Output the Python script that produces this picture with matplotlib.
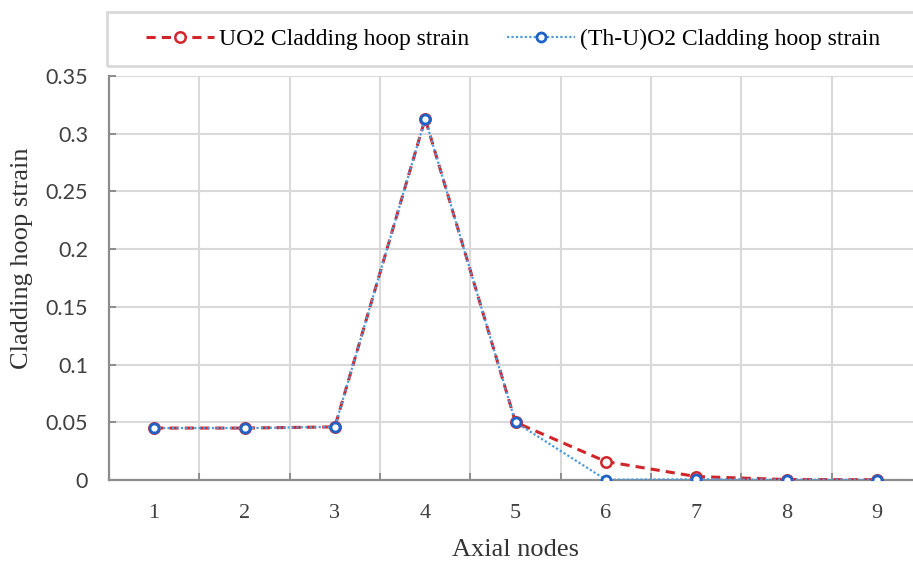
import matplotlib
matplotlib.use("Agg")
import matplotlib.pyplot as plt
from matplotlib.patches import Rectangle

# data
nodes = [1, 2, 3, 4, 5, 6, 7, 8, 9]
uo2_strain = [0.045, 0.045, 0.046, 0.313, 0.050, 0.016, 0.003, 0.0004, 0.0002]
thu_strain = [0.045, 0.045, 0.046, 0.313, 0.050, 0.0003, 0.0006, 0.0003, 0.0002]
yticks = [0, 0.05, 0.1, 0.15, 0.2, 0.25, 0.3, 0.35]
ytick_labels = ["0", "0.05", "0.1", "0.15", "0.2", "0.25", "0.3", "0.35"]

red = "#d0262b"
blue_line = "#4a9be0"
blue_mark = "#1f62c8"

fig = plt.figure(figsize=(9.13, 5.61), dpi=100)
ax = fig.add_axes([109 / 913, 1 - 480 / 561, 813 / 913, (480 - 76) / 561])

ax.plot(nodes, uo2_strain, color=red, ls=(0, (3, 2)), lw=2.2, marker="o",
        ms=7.5, mfc="white", mec=red, mew=1.8, label="UO2 Cladding hoop strain", zorder=3)
ax.plot(nodes, thu_strain, color=blue_line, ls=(0, (1, 1)), lw=1.6, marker="o",
        ms=6.5, mfc="white", mec=blue_mark, mew=2.0, label="(Th-U)O2 Cladding hoop strain", zorder=4)

ax.set_xlim(0.5, 9.5)
ax.set_ylim(0, 0.35)
ax.set_xticks(nodes)
ax.set_xticks([x + 0.5 for x in nodes[:-1]], minor=True)
ax.set_yticks(yticks)
ax.set_yticklabels(ytick_labels)
ax.grid(True, which="minor", axis="x", color="#d9d9d9", lw=1.5)
ax.grid(True, which="major", axis="y", color="#d9d9d9", lw=1.5)
ax.set_axisbelow(True)

for side in ["top", "right"]:
    ax.spines[side].set_visible(False)
for side in ["left", "bottom"]:
    ax.spines[side].set_color("#8c8c8c")
    ax.spines[side].set_linewidth(1.6)

ax.tick_params(axis="x", which="major", length=0, pad=17, labelsize=16,
               labelcolor="#404040")
ax.tick_params(axis="x", which="minor", direction="in", length=5, color="#8c8c8c", width=1.4)
ax.tick_params(axis="y", direction="in", length=5, color="#8c8c8c", width=1.4,
               labelsize=15.5, labelcolor="#404040", pad=15)
for lab in ax.get_yticklabels():
    lab.set_fontfamily("Lato")
for lab in ax.get_xticklabels():
    lab.set_fontfamily("Liberation Serif")

ax.set_xlabel("Axial nodes", fontfamily="Liberation Serif", fontsize=19,
              color="#333333", labelpad=12)
ax.set_ylabel("Cladding hoop strain", fontfamily="Liberation Serif", fontsize=19,
              color="#333333")
ax.yaxis.set_label_coords(-0.093, 0.55)

# legend box on top
fig.patches.append(Rectangle((107 / 913, 1 - 66 / 561), 0.92, 54 / 561,
                             transform=fig.transFigure, fill=False,
                             edgecolor="#d9d9d9", lw=2))
fig.legend(loc="center", bbox_to_anchor=(513 / 913, 1 - 39 / 561), ncol=2,
           frameon=False, handlelength=2.9, handletextpad=0.2, columnspacing=1.6,
           prop={"family": "Liberation Serif", "size": 17})

fig.savefig("out.png", dpi=100)
